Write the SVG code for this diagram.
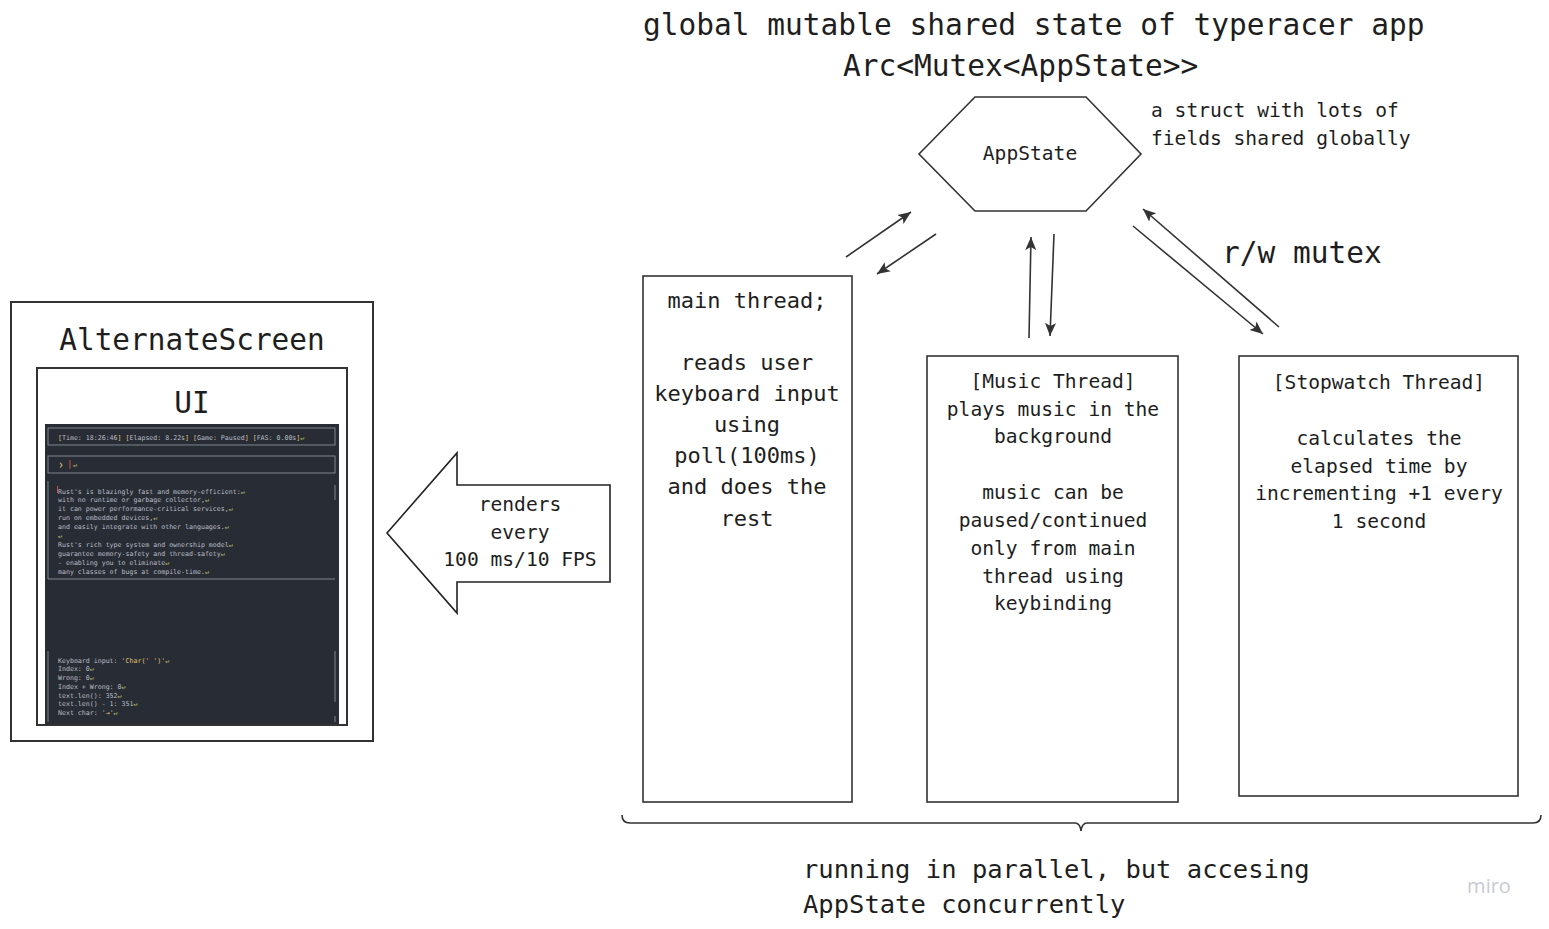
<svg xmlns="http://www.w3.org/2000/svg" width="1549" height="929" viewBox="0 0 1549 929">
<style>
.m{font-family:"DejaVu Sans Mono","Liberation Mono",monospace;fill:#1e1e1e}
.c{text-anchor:middle}
.box{fill:#fff;stroke:#333;stroke-width:1.6}
.con{stroke:#333;stroke-width:1.6;fill:none}
.t{font-family:"DejaVu Sans Mono","Liberation Mono",monospace;font-size:6.6px;fill:#b9bec7}
.y{fill:#e0c070}
.nl{fill:#c8d070}
.tb{fill:none;stroke:#8b9099;stroke-width:0.9}
</style>
<defs>
<marker id="ah" markerUnits="userSpaceOnUse" markerWidth="14" markerHeight="12" viewBox="0 0 14 12" refX="13" refY="6" orient="auto">
<path d="M0,0.5 L13,6 L0,11.5 L3,6 z" fill="#333"/>
</marker>
</defs>
<rect width="1549" height="929" fill="#fff"/>

<g id="title">
<text class="m" x="643" y="35" font-size="29.5">global mutable shared state of typeracer app</text>
<text class="m" x="843" y="76" font-size="29.5">Arc&lt;Mutex&lt;AppState&gt;&gt;</text>
</g>

<g id="appstate">
<polygon points="919,154 975,97 1086,97 1141,154 1086,211 975,211" fill="#fff" stroke="#333" stroke-width="1.6"/>
<text class="m c" x="1030" y="160" font-size="19.6">AppState</text>
</g>

<g id="appstate-note">
<text class="m" x="1151" y="117" font-size="19.6">a struct with lots of</text>
<text class="m" x="1151" y="145" font-size="19.6">fields shared globally</text>
</g>

<g id="rw-label">
<text class="m" x="1222" y="263" font-size="29.5">r/w mutex</text>
</g>

<g id="connectors">
<line class="con" x1="846" y1="257" x2="911" y2="212" marker-end="url(#ah)"/>
<line class="con" x1="936" y1="234" x2="877" y2="274" marker-end="url(#ah)"/>
<line class="con" x1="1029" y1="338" x2="1031" y2="237" marker-end="url(#ah)"/>
<line class="con" x1="1054" y1="234" x2="1050" y2="336" marker-end="url(#ah)"/>
<line class="con" x1="1279" y1="327" x2="1143" y2="209" marker-end="url(#ah)"/>
<line class="con" x1="1133" y1="226" x2="1263" y2="334" marker-end="url(#ah)"/>
</g>

<g id="main-thread">
<rect class="box" x="643" y="276" width="209" height="526"/>
<g class="m c" font-size="22">
<text x="747" y="308">main thread;</text>
<text x="747" y="370">reads user</text>
<text x="747" y="401">keyboard input</text>
<text x="747" y="432">using</text>
<text x="747" y="463">poll(100ms)</text>
<text x="747" y="494">and does the</text>
<text x="747" y="526">rest</text>
</g>
</g>

<g id="music-thread">
<rect class="box" x="927" y="356" width="251" height="446"/>
<g class="m c" font-size="19.6">
<text x="1053" y="388">[Music Thread]</text>
<text x="1053" y="416">plays music in the</text>
<text x="1053" y="443">background</text>
<text x="1053" y="499">music can be</text>
<text x="1053" y="527">paused/continued</text>
<text x="1053" y="555">only from main</text>
<text x="1053" y="583">thread using</text>
<text x="1053" y="610">keybinding</text>
</g>
</g>

<g id="stopwatch-thread">
<rect class="box" x="1239" y="356" width="279" height="440"/>
<g class="m c" font-size="19.6">
<text x="1379" y="389">[Stopwatch Thread]</text>
<text x="1379" y="445">calculates the</text>
<text x="1379" y="473">elapsed time by</text>
<text x="1379" y="500">incrementing +1 every</text>
<text x="1379" y="528">1 second</text>
</g>
</g>

<g id="render-arrow">
<polygon points="387,533 457,453 457,485 610,485 610,582 457,582 457,613" fill="#fff" stroke="#222" stroke-width="1.6"/>
<g class="m c" font-size="19.6">
<text x="520" y="511">renders</text>
<text x="520" y="539">every</text>
<text x="520" y="566">100 ms/10 FPS</text>
</g>
</g>

<g id="alternate-screen">
<rect x="11" y="302" width="362" height="439" fill="#fff" stroke="#333" stroke-width="2"/>
<text class="m c" x="192" y="350" font-size="29.4">AlternateScreen</text>
</g>

<g id="ui">
<rect x="37" y="368" width="310" height="357" fill="#fff" stroke="#333" stroke-width="2"/>
<text class="m c" x="192" y="413" font-size="29.4">UI</text>
<rect x="45" y="424" width="294" height="300" fill="#282c34"/>
<rect class="tb" x="48" y="428" width="287" height="17"/>
<text class="t" x="58" y="439.5"><tspan class="y">[</tspan>Time: 18:26:46<tspan class="y">]</tspan> <tspan class="y">[</tspan>Elapsed: 8.22s<tspan class="y">]</tspan> <tspan class="y">[</tspan>Game: Paused<tspan class="y">]</tspan> <tspan class="y">[</tspan>FAS: 0.00s<tspan class="y">]</tspan><tspan class="nl">↵</tspan></text>
<rect class="tb" x="48" y="456" width="287" height="17"/>
<text class="t" x="59" y="467"><tspan class="y" font-weight="bold">❯</tspan></text>
<rect x="69.5" y="460" width="0.9" height="9" fill="#d05050"/>
<text class="t nl" x="73" y="467">↵</text>
<path class="tb" d="M48,481 V579 H335 M335,485 V500"/>
<rect x="57" y="486" width="1" height="7" fill="#d05050"/>
<g class="t">
<text x="58" y="493.5">Rust's is blazingly fast and memory-efficient:<tspan class="nl">↵</tspan></text>
<text x="58" y="502.4">with no runtime or garbage collector,<tspan class="nl">↵</tspan></text>
<text x="58" y="511.3">it can power performance-critical services,<tspan class="nl">↵</tspan></text>
<text x="58" y="520.2">run on embedded devices,<tspan class="nl">↵</tspan></text>
<text x="58" y="529.1">and easily integrate with other languages.<tspan class="nl">↵</tspan></text>
<text x="58" y="538"><tspan class="nl">↵</tspan></text>
<text x="58" y="546.9">Rust's rich type system and ownership model<tspan class="nl">↵</tspan></text>
<text x="58" y="555.8">guarantee memory-safety and thread-safety<tspan class="nl">↵</tspan></text>
<text x="58" y="564.7">- enabling you to eliminate<tspan class="nl">↵</tspan></text>
<text x="58" y="573.6">many classes of bugs at compile-time.<tspan class="nl">↵</tspan></text>
</g>
<path class="tb" d="M48,651 V722 M335,651 V702 M335,716 V722"/>
<g class="t">
<text x="58" y="662.5">Keyboard input: <tspan class="y">'Char(' ')'</tspan><tspan class="nl">↵</tspan></text>
<text x="58" y="671.3">Index: 0<tspan class="nl">↵</tspan></text>
<text x="58" y="680">Wrong: 0<tspan class="nl">↵</tspan></text>
<text x="58" y="689">Index + Wrong: 0<tspan class="nl">↵</tspan></text>
<text x="58" y="697.7">text.len(): 352<tspan class="nl">↵</tspan></text>
<text x="58" y="706.4">text.len() - 1: 351<tspan class="nl">↵</tspan></text>
<text x="58" y="715.1">Next char: '<tspan class="y">⇥</tspan>'<tspan class="nl">↵</tspan></text>
</g>
</g>

<g id="brace">
<path class="con" d="M622,815 Q622,823 630,823 L1075,823 Q1080,823 1081,831 Q1082,823 1087,823 L1533,823 Q1541,823 1541,815" stroke-width="1.4"/>
</g>

<g id="bottom-note">
<text class="m" x="803" y="878" font-size="25.5">running in parallel, but accesing</text>
<text class="m" x="803" y="913" font-size="25.5">AppState concurrently</text>
</g>

<g id="watermark">
<text x="1489" y="893" font-family="'Open Sans','Noto Sans',sans-serif" font-size="20" fill="#c9cbd3" text-anchor="middle">miro</text>
</g>
</svg>
